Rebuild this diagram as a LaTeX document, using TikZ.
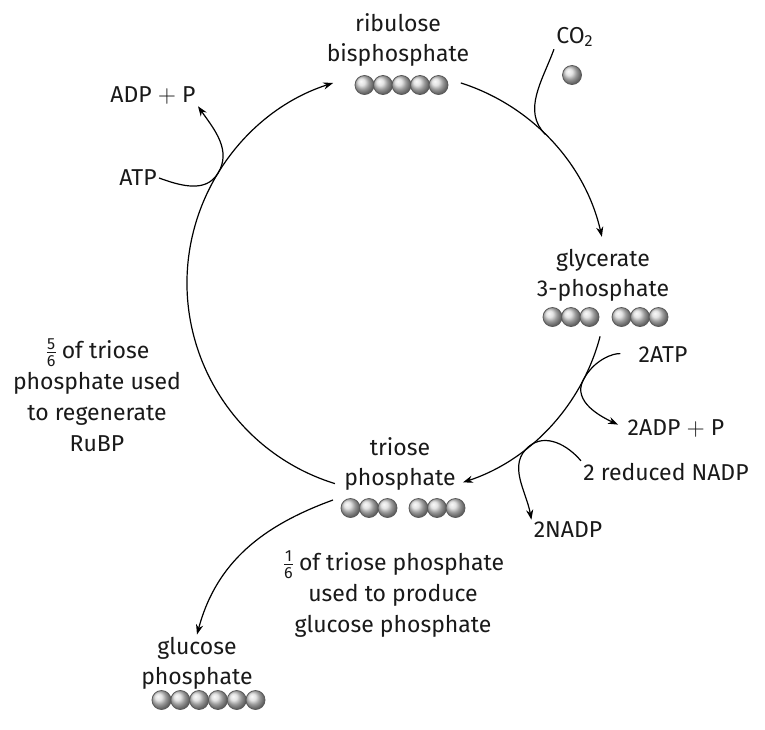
\documentclass[tikz,border=0pt]{standalone}
\usepackage{amsmath}
\usepackage{fontspec}
\setmainfont{Fira Sans}
\usetikzlibrary{arrows.meta,positioning,calc}

\begin{document}
\begin{tikzpicture}[x=0.5pt, y=0.5pt, >={Stealth[length=5pt,width=3.6pt]},
    lbl/.style={align=center, font=\fontsize{11.5}{15}\selectfont, text=black!90, inner sep=1pt},
    note/.style={lbl, font=\fontsize{11.5}{15.5}\selectfont},
    flow/.style={line width=0.6pt},
    bead/.style={ball color=gray!30, draw=black!65, line width=0.4pt}]
    \useasboundingbox (0,0) rectangle (765,-729);
    \coordinate (cyc) at (397,-283);

    % compounds of the cycle
    \node[lbl] (rubp) at (398,-40) {ribulose\\bisphosphate};
    \node[lbl] (gp) at (603,-275) {glycerate\\3-phosphate};
    \node[lbl] (tp) at (400,-464) {triose\\phosphate};
    \node[lbl] (glu) at (197,-663) {glucose\\phosphate};
    \node[lbl] (co2) at (575,-37) {CO\textsubscript{2}};

    % beads
    \foreach \x in {364.5,383,401.5,420,438.5}
        \shadedraw[bead] (\x,-85) circle[radius=4.75pt];
    \shadedraw[bead] (572,-75) circle[radius=4.75pt];
    \foreach \x in {552.5,571,589.5,621.5,640,658.5}
        \shadedraw[bead] (\x,-317) circle[radius=4.75pt];
    \foreach \x in {350.5,369,387.5,418.5,437,455.5}
        \shadedraw[bead] (\x,-508) circle[radius=4.75pt];
    \foreach \i in {0,...,5}
        \shadedraw[bead] (161.5+18.8*\i,-700) circle[radius=4.75pt];

    % side reactants and products
    \node[lbl] (adp) at (153,-95) {ADP $+$ P};
    \node[lbl] (atp) at (138,-178) {ATP};
    \node[lbl] (atp2) at (663,-355) {2ATP};
    \node[lbl] (adp2) at (676,-428) {2ADP $+$ P};
    \node[lbl] (nadph) at (666,-472) {2 reduced NADP};
    \node[lbl] (nadp) at (568,-530) {2NADP};

    % notes
    \node[note] (regen) at (97,-395) {$\frac{\text{5}}{\text{6}}$\,of triose\\phosphate used\\to regenerate\\RuBP};
    \node[note] (prod) at (393,-594) {$\frac{\text{1}}{\text{6}}$\,of triose phosphate\\used to produce\\glucose phosphate};

    % the cycle
    \draw[flow, ->] ($(cyc)+(72.3:210)$) arc[start angle=72.3, end angle=12.7, radius=105pt];
    \draw[flow, ->] ($(cyc)+(-14.7:210)$) arc[start angle=-14.7, end angle=-71.7, radius=105pt];
    \draw[flow, ->] ($(cyc)+(252.8:210)$) arc[start angle=252.8, end angle=107.7, radius=105pt];

    % points where side reactions touch the cycle
    \coordinate (tatp) at ($(cyc)+(148.6:210)$);
    \coordinate (tco2) at ($(cyc)+(45:210)$);
    \coordinate (tatp2) at ($(cyc)+(-27.5:210)$);
    \coordinate (tnadp) at ($(cyc)+(-51:210)$);
    \coordinate (tpl) at (333,-500);

    \draw[flow, ->] (atp.east) to[out=-20, in=238] (tatp) to[out=58, in=-55] (adp.south east);
    \draw[flow] (co2.south west) to[out=-110, in=135] (tco2);
    \draw[flow, ->, shorten <=8pt, shorten >=4pt] (atp2.west) to[out=175, in=62.5] (tatp2) to[out=-117.5, in=155] (adp2.west);
    \draw[flow, ->] (nadph.north west) to[out=130, in=39] (tnadp) to[out=-141, in=100] (nadp.north west);
    \draw[flow, ->] (tpl) to[out=-160, in=75] (glu.north);
\end{tikzpicture}
\end{document}
